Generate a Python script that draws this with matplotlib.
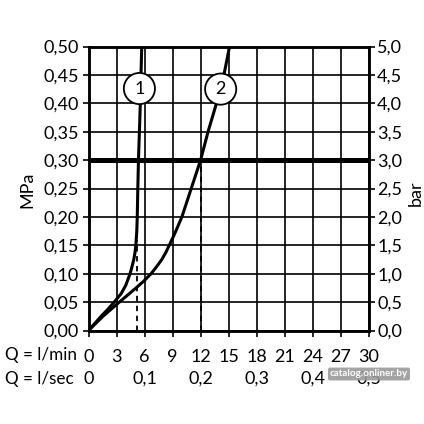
import matplotlib
matplotlib.use("Agg")
import matplotlib.pyplot as plt
import matplotlib.transforms as mtransforms

plt.rcParams['font.family'] = ['Lato', 'DejaVu Sans']

# Curve 1 (flow l/min vs pressure MPa)
q1 = [0, 1.35, 2.08, 2.75, 3.5, 4.0, 4.45, 4.66, 4.85, 4.98, 5.07, 5.17, 5.22, 5.28, 5.35, 5.45, 5.55, 5.62, 5.7]
p1 = [0, 0.025, 0.0375, 0.05, 0.065, 0.08, 0.10, 0.1125, 0.125, 0.1375, 0.15, 0.175, 0.20, 0.25, 0.30, 0.35, 0.40, 0.45, 0.50]
# Curve 2
q2 = [0, 1.55, 3.3, 5.1, 5.95, 6.7, 7.3, 7.85, 8.28, 8.65, 9.35, 10.0, 11.0, 12.0, 12.8, 13.7, 14.5, 15.1]
p2 = [0, 0.025, 0.05, 0.075, 0.0875, 0.10, 0.1125, 0.125, 0.1375, 0.15, 0.175, 0.20, 0.25, 0.30, 0.35, 0.40, 0.45, 0.50]

ref_pressure = 0.30
dash1_q, dash1_top = 5.2, 0.16
dash2_q, dash2_top = 12.0, 0.30

mpa_ticks = [0.00, 0.05, 0.10, 0.15, 0.20, 0.25, 0.30, 0.35, 0.40, 0.45, 0.50]
bar_ticks = [0.0, 0.5, 1.0, 1.5, 2.0, 2.5, 3.0, 3.5, 4.0, 4.5, 5.0]
lmin_ticks = [0, 3, 6, 9, 12, 15, 18, 21, 24, 27, 30]
lsec_labels = ["0", "0,1", "0,2", "0,3", "0,4", "0,5"]
lsec_pos = [0, 6, 12, 18, 24, 30]
labels = [("1", 5.45, 0.426), ("2", 14.15, 0.425)]

FS = 13

fig = plt.figure(figsize=(4.24, 4.24), dpi=100)
ax = fig.add_axes([88.5/424, 1 - 330.5/424, (368.7 - 88.5)/424, (330.5 - 46.5)/424])
ax.set_xlim(0, 30)
ax.set_ylim(0, 0.5)

ax.set_xticks(lmin_ticks)
ax.set_xticklabels([str(t) for t in lmin_ticks])
ax.set_yticks(mpa_ticks)
ax.set_yticklabels([f"{t:.2f}".replace(".", ",") for t in mpa_ticks])
ax.grid(True, color='black', linewidth=1.2)
ax.set_axisbelow(True)
for s in ax.spines.values():
    s.set_linewidth(1.8)
ax.tick_params(axis='both', direction='out', length=4, width=1.2, labelsize=FS, colors='black')
ax.tick_params(axis='x', pad=9)
ax.tick_params(axis='y', pad=3)

ax.axhline(ref_pressure, color='black', linewidth=3.6, zorder=3)
ax.plot([dash1_q, dash1_q], [0, dash1_top], color='black', lw=1.3, ls=(0, (3, 2.5)), zorder=3)
ax.plot([dash2_q, dash2_q], [0, dash2_top], color='black', lw=1.3, ls=(0, (3, 2.5)), zorder=3)
ax.plot(q1, p1, color='black', lw=2.2, solid_joinstyle='round', zorder=4)
ax.plot(q2, p2, color='black', lw=2.2, solid_joinstyle='round', zorder=4)

for txt, xq, yp in labels:
    ax.annotate(txt, (xq, yp), ha='center', va='center', fontsize=FS, zorder=6,
                bbox=dict(boxstyle='circle,pad=0.42', fc='white', ec='black', lw=1.3))

ax2 = ax.twinx()
ax2.set_ylim(0, 5)
ax2.set_yticks(bar_ticks)
ax2.set_yticklabels([f"{t:.1f}".replace(".", ",") for t in bar_ticks])
ax2.tick_params(axis='y', direction='out', length=4, width=1.2, labelsize=FS, pad=2)
for s in ax2.spines.values():
    s.set_linewidth(1.8)

fig.text(27/424, 1 - 190/424, "MPa", rotation=90, ha='center', va='center', fontsize=FS)
fig.text(416/424, 1 - 193/424, "bar", rotation=90, ha='center', va='center', fontsize=FS)

trans = mtransforms.blended_transform_factory(ax.transData, fig.transFigure)
fig.text(5/424, 1 - 355/424, "Q = l/min", ha='left', va='center', fontsize=12.3)
fig.text(5/424, 1 - 379/424, "Q = l/sec", ha='left', va='center', fontsize=12.3)
for lab, pos in zip(lsec_labels, lsec_pos):
    ax.text(pos, 1 - 379/424, lab, transform=trans, ha='center', va='center', fontsize=FS)

fig.text(369/424, 1 - 374/424, "catalog.onliner.by", ha='center', va='center', fontsize=7,
         color='white', fontweight='bold',
         bbox=dict(boxstyle='round,pad=0.2', fc='#9a9a9a', ec='none', alpha=0.9))

fig.savefig("out.png", dpi=100)
